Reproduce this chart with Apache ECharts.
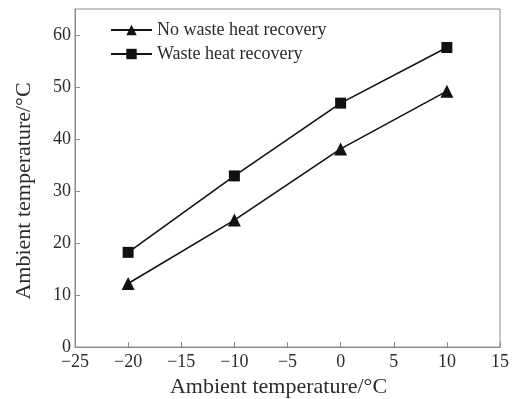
<!DOCTYPE html>
<html>
<head>
<meta charset="utf-8">
<script src="https://cdn.jsdelivr.net/npm/echarts@6/dist/echarts.min.js"></script>
<style>
  html, body { margin: 0; padding: 0; background: #fff; }
  #chart { width: 517px; height: 399px; }
</style>
</head>
<body>
<div id="chart"></div>
<script>
// Ambient temperature (°C) on the x axis
const ambient = [-20, -10, 0, 10];
// Series values
const noRecovery = [12.2, 24.4, 38.1, 49.2];
const withRecovery = [18.2, 32.9, 46.9, 57.6];
const seriesNames = ['No waste heat recovery', 'Waste heat recovery'];
const xAxisTitle = 'Ambient temperature/°C';
const yAxisTitle = 'Ambient temperature/°C';

const font = 'Liberation Serif, Times New Roman, serif';
const axisGray = '#8a8a8a';
const textColor = '#2b2b2b';

const pairs = (xs, ys) => xs.map((x, i) => [x, ys[i]]);
const minusFmt = v => String(v).replace('-', '\u2212');

const chart = echarts.init(document.getElementById('chart'));
chart.setOption({
  animation: false,
  backgroundColor: '#fff',
  grid: {
    left: 75, right: 17, top: 9, bottom: 52,
    outerBoundsMode: 'none', containLabel: false,
    show: true, borderColor: axisGray, borderWidth: 1
  },
  legend: {
    orient: 'vertical',
    left: 105,
    top: 16,
    itemWidth: 41,
    itemHeight: 13,
    itemGap: 6,
    data: seriesNames,
    textStyle: { fontFamily: font, fontSize: 18, color: textColor }
  },
  xAxis: {
    type: 'value',
    min: -25, max: 15, interval: 5,
    name: xAxisTitle,
    nameLocation: 'middle',
    nameGap: 27,
    nameTextStyle: { fontFamily: font, fontSize: 22, color: textColor, padding: [0, 18, 0, 0] },
    axisLine: { show: true, onZero: false, lineStyle: { color: axisGray } },
    axisTick: { show: true, inside: true, length: 5, lineStyle: { color: axisGray } },
    axisLabel: { fontFamily: font, fontSize: 18, color: textColor, margin: 6, formatter: minusFmt },
    splitLine: { show: false }
  },
  yAxis: {
    type: 'value',
    min: 0, max: 65, interval: 10,
    name: yAxisTitle,
    nameLocation: 'middle',
    nameGap: 40,
    nameTextStyle: { fontFamily: font, fontSize: 22, color: textColor, padding: [0, 26, 0, 0] },
    axisLine: { show: true, onZero: false, lineStyle: { color: axisGray } },
    axisTick: { show: true, inside: true, length: 5, lineStyle: { color: axisGray } },
    axisLabel: { fontFamily: font, fontSize: 18, color: textColor, margin: 4,
      showMaxLabel: false },
    splitLine: { show: false }
  },
  series: [
    {
      name: seriesNames[0],
      type: 'line',
      data: pairs(ambient, noRecovery),
      symbol: 'triangle',
      symbolSize: 13,
      itemStyle: { color: '#111' },
      lineStyle: { color: '#111', width: 1.6 }
    },
    {
      name: seriesNames[1],
      type: 'line',
      data: pairs(ambient, withRecovery),
      symbol: 'rect',
      symbolSize: 11,
      itemStyle: { color: '#111' },
      lineStyle: { color: '#111', width: 1.6 }
    }
  ]
});
</script>
</body>
</html>
